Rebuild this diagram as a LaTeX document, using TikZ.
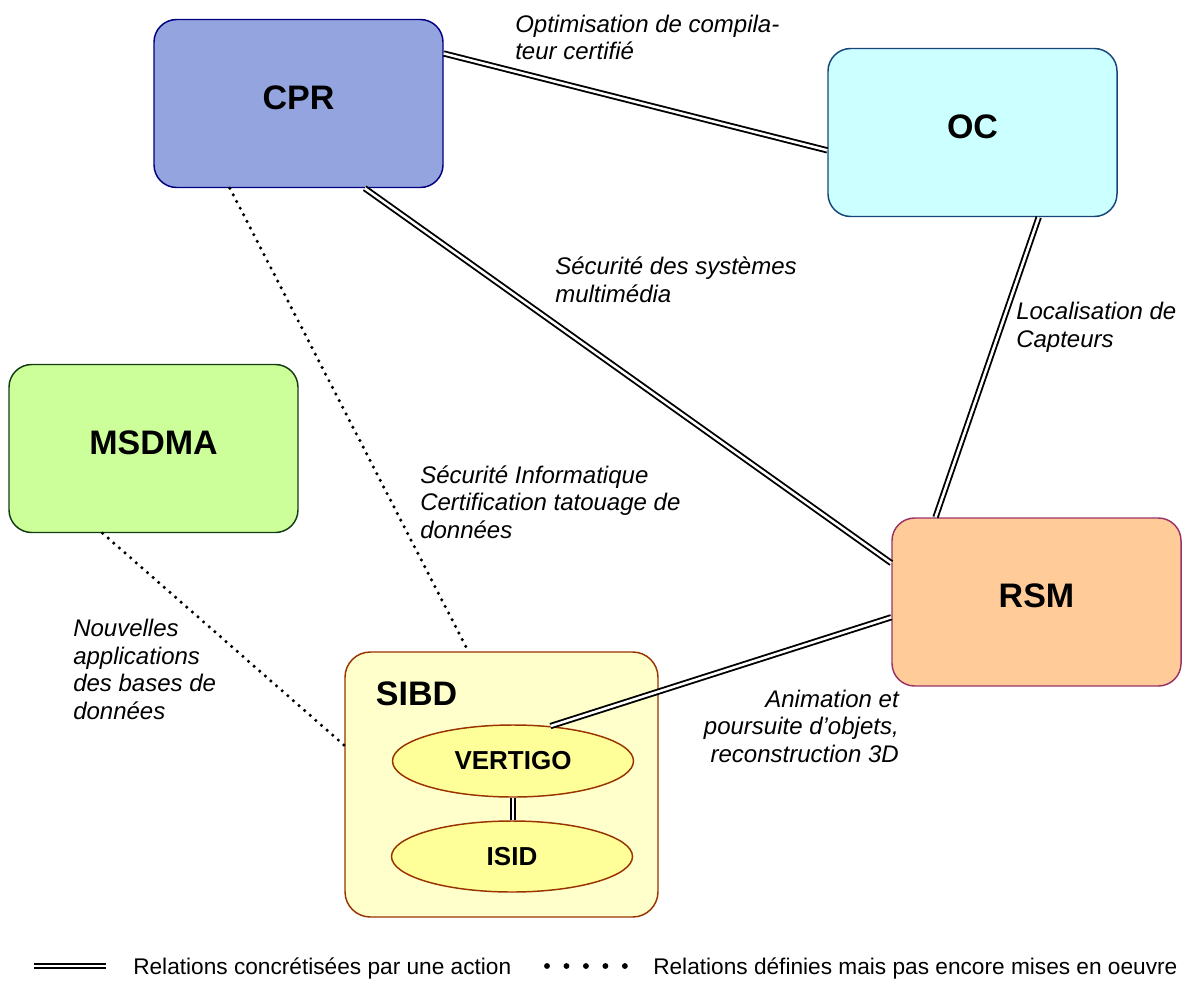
\documentclass[tikz,border=0pt]{standalone}
\usepackage{fontspec}
\setmainfont{Liberation Sans}
\usetikzlibrary{shapes.geometric}
\definecolor{cprfill}{RGB}{148,164,222}
\definecolor{cprdraw}{RGB}{0,0,128}
\definecolor{ocfill}{RGB}{204,255,255}
\definecolor{ocdraw}{RGB}{23,70,120}
\definecolor{msfill}{RGB}{204,255,153}
\definecolor{msdraw}{RGB}{20,60,20}
\definecolor{rsmfill}{RGB}{255,204,153}
\definecolor{rsmdraw}{RGB}{153,51,102}
\definecolor{sibdfill}{RGB}{255,255,204}
\definecolor{sibddraw}{RGB}{153,51,0}
\definecolor{ellfill}{RGB}{255,255,153}
\begin{document}
\begin{tikzpicture}[x=0.75pt,y=-0.75pt,
  box/.style={draw, line width=1.1pt, rounded corners=17pt, minimum width=216.75pt,
    minimum height=126pt, inner sep=0pt, text depth=9pt,
    font=\fontsize{25.5}{30}\selectfont\bfseries},
  ell/.style={ellipse, draw=sibddraw, fill=ellfill, line width=1.1pt, inner sep=0pt,
    minimum width=180.75pt, font=\fontsize{19.5}{23}\selectfont\bfseries},
  rel/.style={draw=black, double=white, line width=1.4pt, double distance=1.9pt},
  dotline/.style={draw=black, line width=2.6pt, line cap=round, dash pattern=on 0pt off 5.6pt},
  legdots/.style={draw=black, line width=4.4pt, line cap=round, dash pattern=on 0pt off 14.6pt},
  lbl/.style={font=\fontsize{18}{20.6}\selectfont\itshape, inner sep=0pt, align=left},
  legtext/.style={font=\fontsize{17}{20}\selectfont, inner sep=0pt}
]
\useasboundingbox (0,0) rectangle (1194,988);

% boxes
\node[box, fill=cprfill, draw=cprdraw] (cpr) at (298.5,103.5) {CPR};
\node[box, fill=ocfill, draw=ocdraw] (oc) at (972.5,132.5) {OC};
\node[box, fill=msfill, draw=msdraw] (msdma) at (153.5,448.5) {MSDMA};
\node[box, fill=rsmfill, draw=rsmdraw] (rsm) at (1036.5,602) {RSM};
\node[draw=sibddraw, fill=sibdfill, line width=1.1pt, rounded corners=19pt,
  minimum width=234.75pt, minimum height=198.75pt, inner sep=0pt] (sibd) at (501.5,784.5) {};
\node[anchor=base, inner sep=0pt, font=\fontsize{25.5}{30}\selectfont\bfseries] (sibdlabel) at (416.5,705) {SIBD};
\node[ell, minimum height=54pt] (vertigo) at (513,761) {VERTIGO};
\node[ell, minimum height=53.25pt] (isid) at (512,856.5) {ISID};

% relations
\draw[rel] (cpr.19.4) -- (oc.187.5);
\draw[rel] (cpr.-52.9) -- (rsm.165.6);
\draw[rel] (oc.-52.7) -- (rsm.140.4);
\draw[rel] (vertigo.43) -- (rsm.186.3);
\draw[rel] (vertigo.south) -- (vertigo.south |- isid.north);
\draw[dotline] (cpr.-129.2) -- (sibd.104.4);
\draw[dotline] (msdma.239.7) -- (sibd.166.3);

% labels (anchor = baseline of the last line)
\node[lbl, anchor=base west] (l1) at (515,60) {Optimisation de compila-\\teur certifié};
\node[lbl, anchor=base west] (l2) at (555,302) {Sécurité des systèmes\\multimédia};
\node[lbl, anchor=base west] (l3) at (1016,347) {Localisation de\\Capteurs};
\node[lbl, anchor=base west] (l4) at (420,538) {Sécurité Informatique\\Certification tatouage de\\données};
\node[lbl, anchor=base west] (l5) at (73,719) {Nouvelles\\applications\\des bases de\\données};
\node[lbl, anchor=base east, align=right] (l6) at (899,762) {Animation et\\poursuite d’objets,\\reconstruction 3D};

% legend
\coordinate (lg1a) at (34,966);
\coordinate (lg1b) at (106,966);
\draw[rel] (lg1a) -- (lg1b);
\node[legtext, anchor=base west] (lt1) at (133,974) {Relations concrétisées par une action};
\coordinate (lg2a) at (547,966);
\coordinate (lg2b) at (627.5,966);
\draw[legdots] (lg2a) -- (lg2b);
\node[legtext, anchor=base west] (lt2) at (653,974) {Relations définies mais pas encore mises en oeuvre};
\end{tikzpicture}
\end{document}
